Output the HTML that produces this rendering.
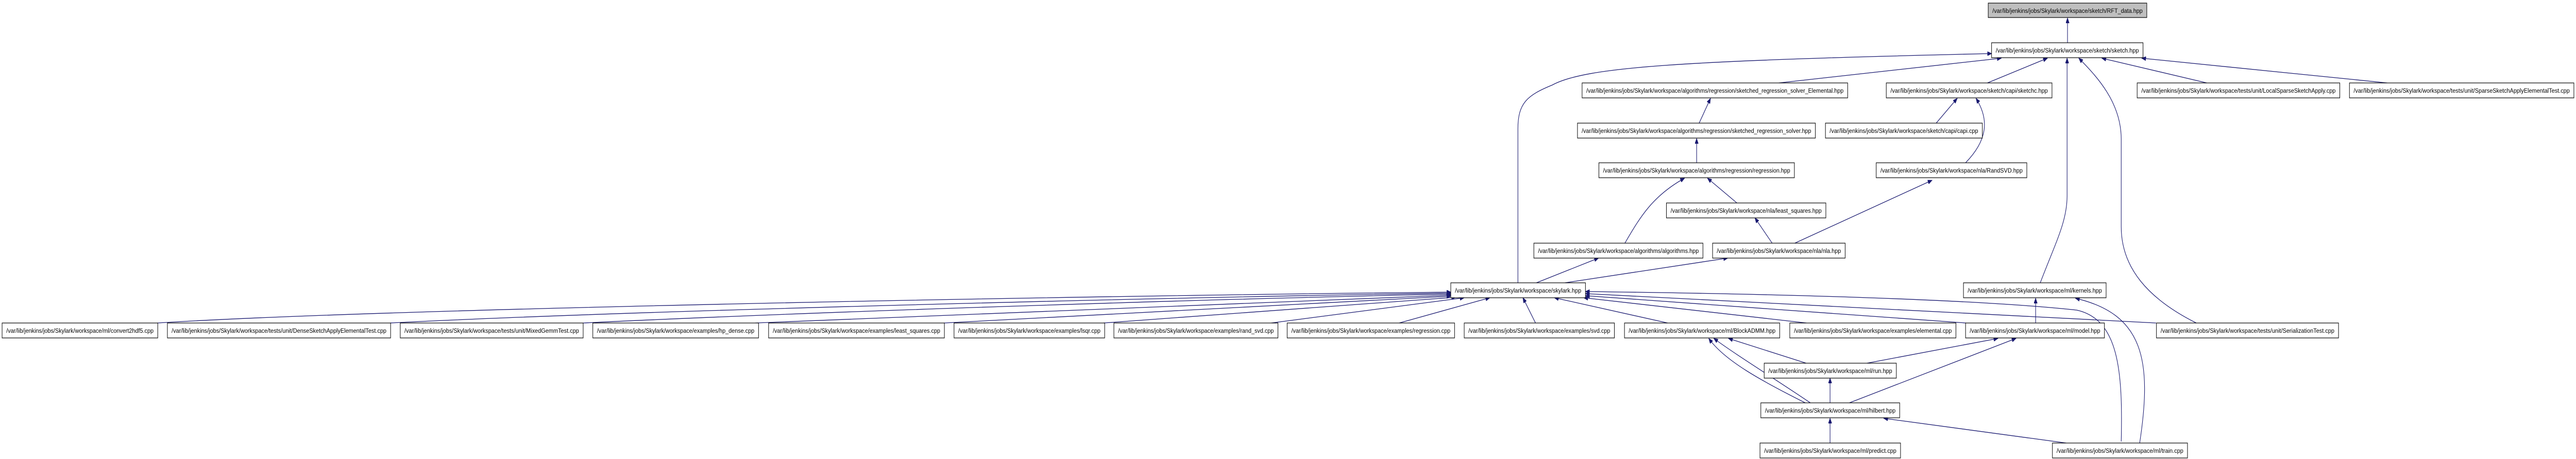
<!DOCTYPE html>
<html><head><meta charset="utf-8"><style>
html,body{margin:0;padding:0;background:#fff;overflow:hidden;width:100vw;height:100vh;}
svg{display:block;width:100vw;height:100vh;}
text{font-family:"Liberation Sans",sans-serif;font-size:12px;fill:#000;}
.e{fill:none;stroke:#191970;stroke-width:1.3;marker-end:url(#a);}
.n{fill:#fff;stroke:#000;stroke-width:1.2;}
.g{fill:#bfbfbf;stroke:#000;stroke-width:1.2;}
</style></head><body>
<svg viewBox="0 0 6140 891" preserveAspectRatio="none" xmlns="http://www.w3.org/2000/svg">
<defs><marker id="a" markerUnits="userSpaceOnUse" markerWidth="11" markerHeight="8" refX="10" refY="4" orient="auto"><path d="M0,0 L10,4 L0,8 z" fill="#191970" stroke="#191970"/></marker></defs>
<g>
<path class="e" d="M4928,83 L4928,35"/>
<path class="e" d="M3618,549 L3618,250 C3618,200 3640,185 3700,165 C3780,130 4000,118 4747,104"/>
<path class="e" d="M4240,161 L4770,113"/>
<path class="e" d="M4737,161 L4880,113"/>
<path class="e" d="M4863,549 C4900,470 4927,430 4927,380 L4927,113"/>
<path class="e" d="M5235,627 C5120,580 5056,520 5056,440 L5056,270 C5056,200 5000,150 4955,113"/>
<path class="e" d="M5260,161 L5010,113"/>
<path class="e" d="M5690,161 L5105,113"/>
<path class="e" d="M4050,239 L4077,191"/>
<path class="e" d="M4044,316 L4044,269"/>
<path class="e" d="M3873,472 C3910,420 3940,380 4015,346"/>
<path class="e" d="M4140,394 L4070,346"/>
<path class="e" d="M4224,472 L4183,423"/>
<path class="e" d="M4278,472 L4605,350"/>
<path class="e" d="M4615,239 L4665,191"/>
<path class="e" d="M4685,316 C4740,270 4740,230 4710,191"/>
<path class="e" d="M3662,549 L3810,501"/>
<path class="e" d="M3730,549 L4118,501"/>
<path class="e" d="M375,627 C900,600 2500,575 3458,567"/>
<path class="e" d="M930,627 C1500,603 2800,577 3458,569"/>
<path class="e" d="M1390,627 C2000,603 3000,578 3458,571"/>
<path class="e" d="M1800,627 L3458,573"/>
<path class="e" d="M2250,627 L3458,575"/>
<path class="e" d="M2630,627 L3470,577"/>
<path class="e" d="M3030,627 L3490,578"/>
<path class="e" d="M3335,627 L3551,578"/>
<path class="e" d="M3660,627 L3630,578"/>
<path class="e" d="M3975,627 L3705,578"/>
<path class="e" d="M4306,627 L3775,578"/>
<path class="e" d="M4686,627 L3779,574"/>
<path class="e" d="M5139,627 L3779,570"/>
<path class="e" d="M5056,857 C5060,720 5050,620 4950,602 C4700,580 4200,570 3779,566"/>
<path class="e" d="M4852,627 L4852,579"/>
<path class="e" d="M5100,860 C5130,700 5110,610 4947,579"/>
<path class="e" d="M4305,705 L4120,657"/>
<path class="e" d="M4303,782 C4200,740 4110,700 4073,657"/>
<path class="e" d="M4315,782 C4230,735 4140,690 4085,657"/>
<path class="e" d="M4362,782 L4362,734"/>
<path class="e" d="M4362,860 L4362,812"/>
<path class="e" d="M4450,705 L4762,657"/>
<path class="e" d="M4408,782 L4805,657"/>
<path class="e" d="M4925,860 L4490,812"/>
</g>
<g>
<rect class="g" x="4739" y="6" width="378" height="28"/><text x="4749" y="25" textLength="358" lengthAdjust="spacingAndGlyphs">/var/lib/jenkins/jobs/Skylark/workspace/sketch/RFT_data.hpp</text>
<rect class="n" x="4747" y="83" width="361" height="29"/><text x="4757" y="102" textLength="341" lengthAdjust="spacingAndGlyphs">/var/lib/jenkins/jobs/Skylark/workspace/sketch/sketch.hpp</text>
<rect class="n" x="3771" y="161" width="633" height="29"/><text x="3781" y="180" textLength="613" lengthAdjust="spacingAndGlyphs">/var/lib/jenkins/jobs/Skylark/workspace/algorithms/regression/sketched_regression_solver_Elemental.hpp</text>
<rect class="n" x="4496" y="161" width="395" height="29"/><text x="4506" y="180" textLength="375" lengthAdjust="spacingAndGlyphs">/var/lib/jenkins/jobs/Skylark/workspace/sketch/capi/sketchc.hpp</text>
<rect class="n" x="5094" y="161" width="483" height="29"/><text x="5104" y="180" textLength="463" lengthAdjust="spacingAndGlyphs">/var/lib/jenkins/jobs/Skylark/workspace/tests/unit/LocalSparseSketchApply.cpp</text>
<rect class="n" x="5600" y="161" width="535" height="29"/><text x="5610" y="180" textLength="515" lengthAdjust="spacingAndGlyphs">/var/lib/jenkins/jobs/Skylark/workspace/tests/unit/SparseSketchApplyElementalTest.cpp</text>
<rect class="n" x="3760" y="239" width="567" height="29"/><text x="3770" y="258" textLength="547" lengthAdjust="spacingAndGlyphs">/var/lib/jenkins/jobs/Skylark/workspace/algorithms/regression/sketched_regression_solver.hpp</text>
<rect class="n" x="4351" y="239" width="374" height="29"/><text x="4361" y="258" textLength="354" lengthAdjust="spacingAndGlyphs">/var/lib/jenkins/jobs/Skylark/workspace/sketch/capi/capi.cpp</text>
<rect class="n" x="3811" y="316" width="466" height="29"/><text x="3821" y="335" textLength="446" lengthAdjust="spacingAndGlyphs">/var/lib/jenkins/jobs/Skylark/workspace/algorithms/regression/regression.hpp</text>
<rect class="n" x="4472" y="316" width="359" height="29"/><text x="4482" y="335" textLength="339" lengthAdjust="spacingAndGlyphs">/var/lib/jenkins/jobs/Skylark/workspace/nla/RandSVD.hpp</text>
<rect class="n" x="3972" y="394" width="380" height="29"/><text x="3982" y="413" textLength="360" lengthAdjust="spacingAndGlyphs">/var/lib/jenkins/jobs/Skylark/workspace/nla/least_squares.hpp</text>
<rect class="n" x="3656" y="472" width="403" height="29"/><text x="3666" y="491" textLength="383" lengthAdjust="spacingAndGlyphs">/var/lib/jenkins/jobs/Skylark/workspace/algorithms/algorithms.hpp</text>
<rect class="n" x="4082" y="472" width="316" height="29"/><text x="4092" y="491" textLength="296" lengthAdjust="spacingAndGlyphs">/var/lib/jenkins/jobs/Skylark/workspace/nla/nla.hpp</text>
<rect class="n" x="3458" y="549" width="321" height="29"/><text x="3468" y="568" textLength="301" lengthAdjust="spacingAndGlyphs">/var/lib/jenkins/jobs/Skylark/workspace/skylark.hpp</text>
<rect class="n" x="4680" y="549" width="340" height="29"/><text x="4690" y="568" textLength="320" lengthAdjust="spacingAndGlyphs">/var/lib/jenkins/jobs/Skylark/workspace/ml/kernels.hpp</text>
<rect class="n" x="5" y="627" width="371" height="29"/><text x="15" y="646" textLength="351" lengthAdjust="spacingAndGlyphs">/var/lib/jenkins/jobs/Skylark/workspace/ml/convert2hdf5.cpp</text>
<rect class="n" x="399" y="627" width="532" height="29"/><text x="409" y="646" textLength="512" lengthAdjust="spacingAndGlyphs">/var/lib/jenkins/jobs/Skylark/workspace/tests/unit/DenseSketchApplyElementalTest.cpp</text>
<rect class="n" x="954" y="627" width="436" height="29"/><text x="964" y="646" textLength="416" lengthAdjust="spacingAndGlyphs">/var/lib/jenkins/jobs/Skylark/workspace/tests/unit/MixedGemmTest.cpp</text>
<rect class="n" x="1413" y="627" width="395" height="29"/><text x="1423" y="646" textLength="375" lengthAdjust="spacingAndGlyphs">/var/lib/jenkins/jobs/Skylark/workspace/examples/hp_dense.cpp</text>
<rect class="n" x="1832" y="627" width="419" height="29"/><text x="1842" y="646" textLength="399" lengthAdjust="spacingAndGlyphs">/var/lib/jenkins/jobs/Skylark/workspace/examples/least_squares.cpp</text>
<rect class="n" x="2274" y="627" width="359" height="29"/><text x="2284" y="646" textLength="339" lengthAdjust="spacingAndGlyphs">/var/lib/jenkins/jobs/Skylark/workspace/examples/lsqr.cpp</text>
<rect class="n" x="2655" y="627" width="391" height="29"/><text x="2665" y="646" textLength="371" lengthAdjust="spacingAndGlyphs">/var/lib/jenkins/jobs/Skylark/workspace/examples/rand_svd.cpp</text>
<rect class="n" x="3068" y="627" width="399" height="29"/><text x="3078" y="646" textLength="379" lengthAdjust="spacingAndGlyphs">/var/lib/jenkins/jobs/Skylark/workspace/examples/regression.cpp</text>
<rect class="n" x="3490" y="627" width="358" height="29"/><text x="3500" y="646" textLength="338" lengthAdjust="spacingAndGlyphs">/var/lib/jenkins/jobs/Skylark/workspace/examples/svd.cpp</text>
<rect class="n" x="3872" y="627" width="370" height="29"/><text x="3882" y="646" textLength="350" lengthAdjust="spacingAndGlyphs">/var/lib/jenkins/jobs/Skylark/workspace/ml/BlockADMM.hpp</text>
<rect class="n" x="4266" y="627" width="396" height="29"/><text x="4276" y="646" textLength="376" lengthAdjust="spacingAndGlyphs">/var/lib/jenkins/jobs/Skylark/workspace/examples/elemental.cpp</text>
<rect class="n" x="4685" y="627" width="331" height="29"/><text x="4695" y="646" textLength="311" lengthAdjust="spacingAndGlyphs">/var/lib/jenkins/jobs/Skylark/workspace/ml/model.hpp</text>
<rect class="n" x="5140" y="627" width="434" height="29"/><text x="5150" y="646" textLength="414" lengthAdjust="spacingAndGlyphs">/var/lib/jenkins/jobs/Skylark/workspace/tests/unit/SerializationTest.cpp</text>
<rect class="n" x="4205" y="705" width="315" height="29"/><text x="4215" y="724" textLength="295" lengthAdjust="spacingAndGlyphs">/var/lib/jenkins/jobs/Skylark/workspace/ml/run.hpp</text>
<rect class="n" x="4197" y="782" width="331" height="29"/><text x="4207" y="801" textLength="311" lengthAdjust="spacingAndGlyphs">/var/lib/jenkins/jobs/Skylark/workspace/ml/hilbert.hpp</text>
<rect class="n" x="4195" y="860" width="335" height="29"/><text x="4205" y="879" textLength="315" lengthAdjust="spacingAndGlyphs">/var/lib/jenkins/jobs/Skylark/workspace/ml/predict.cpp</text>
<rect class="n" x="4892" y="860" width="322" height="29"/><text x="4902" y="879" textLength="302" lengthAdjust="spacingAndGlyphs">/var/lib/jenkins/jobs/Skylark/workspace/ml/train.cpp</text>
</g>
</svg>
</body></html>
